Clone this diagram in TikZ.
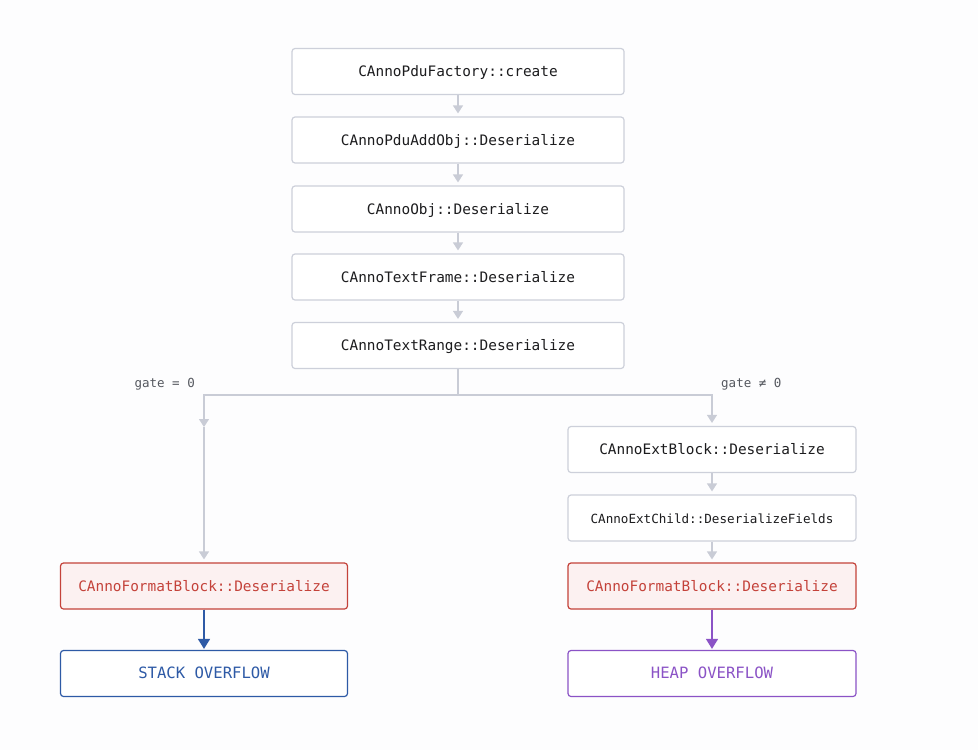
\documentclass[tikz,border=0pt]{standalone}
\usepackage{fontspec}
\setmonofont{DejaVu Sans Mono}
\usetikzlibrary{arrows.meta}
\definecolor{bg}{HTML}{FDFDFE}
\definecolor{boxline}{HTML}{CDD0DA}
\definecolor{arrowgray}{HTML}{C9CCD6}
\definecolor{txt}{HTML}{1C1C1E}
\definecolor{lbl}{HTML}{55585F}
\definecolor{redline}{HTML}{C4423A}
\definecolor{redfill}{HTML}{FCF1F1}
\definecolor{bluec}{HTML}{2E5AA6}
\definecolor{purplec}{HTML}{8B53C6}
\tikzset{
  fbox/.style={draw=boxline, line width=1.2pt, fill=white, rounded corners=3pt,
    minimum height=46pt, inner sep=0pt, text height=10pt, text depth=0pt,
    font=\ttfamily\fontsize{14.4}{16}\selectfont, text=txt},
  wide/.style={minimum width=332pt},
  narrow/.style={minimum width=288pt},
  redbox/.style={fbox, draw=redline, fill=redfill, text=redline},
  bluebox/.style={fbox, draw=bluec, text=bluec, font=\ttfamily\fontsize{15.6}{17}\selectfont},
  purplebox/.style={fbox, draw=purplec, text=purplec, font=\ttfamily\fontsize{15.6}{17}\selectfont},
  garrow/.style={draw=arrowgray, line width=1.2pt, -{Triangle[width=10pt,length=8pt]}, shorten >=3pt},
  gline/.style={draw=arrowgray, line width=1.2pt},
  carrow/.style={line width=1.4pt, -{Triangle[width=12pt,length=10pt]}, shorten >=1pt},
  gatelbl/.style={font=\ttfamily\fontsize{12.5}{14}\selectfont, text=lbl, inner sep=0pt}
}
\begin{document}
\begin{tikzpicture}[x=1pt,y=-1pt]
\fill[bg] (0,0) rectangle (978,750);
\useasboundingbox (0,0) rectangle (978,750);
\node[fbox,wide] (n1) at (458,71.5) {CAnnoPduFactory::create};
\node[fbox,wide] (n2) at (458,140) {CAnnoPduAddObj::Deserialize};
\node[fbox,wide] (n3) at (458,209) {CAnnoObj::Deserialize};
\node[fbox,wide] (n4) at (458,277) {CAnnoTextFrame::Deserialize};
\node[fbox,wide] (n5) at (458,345.5) {CAnnoTextRange::Deserialize};
\node[fbox,narrow] (e1) at (712,449.5) {CAnnoExtBlock::Deserialize};
\node[fbox,narrow,font=\ttfamily\fontsize{12.6}{14}\selectfont] (e2) at (712,518) {CAnnoExtChild::DeserializeFields};
\node[redbox,narrow,minimum width=287pt] (fl) at (204,586) {CAnnoFormatBlock::Deserialize};
\node[redbox,narrow] (fr) at (712,586) {CAnnoFormatBlock::Deserialize};
\node[bluebox,narrow,minimum width=287pt] (so) at (204,673.5) {STACK OVERFLOW};
\node[purplebox,narrow] (ho) at (712,673.5) {HEAP OVERFLOW};
\coordinate (j) at (458,395);
\coordinate (jl) at (204,395);
\coordinate (jr) at (712,395);
\coordinate (d) at (204,427);
\node[gatelbl, anchor=east] (g0) at (195,384) {gate = 0};
\node[gatelbl, anchor=west] (g1) at (721,384) {gate ≠ 0};
\draw[garrow] (n1) -- (n2);
\draw[garrow] (n2) -- (n3);
\draw[garrow] (n3) -- (n4);
\draw[garrow] (n4) -- (n5);
\draw[gline] (n5.south) -- (j);
\draw[garrow, shorten >=0pt] (j) -- (jl) -- (d);
\draw[garrow] (d) -- (fl.north);
\draw[garrow] (j) -- (jr) -- (e1.north);
\draw[garrow] (e1) -- (e2);
\draw[garrow] (e2) -- (fr);
\draw[carrow, draw=bluec, fill=bluec] (fl) -- (so);
\draw[carrow, draw=purplec, fill=purplec] (fr) -- (ho);
\end{tikzpicture}
\end{document}
